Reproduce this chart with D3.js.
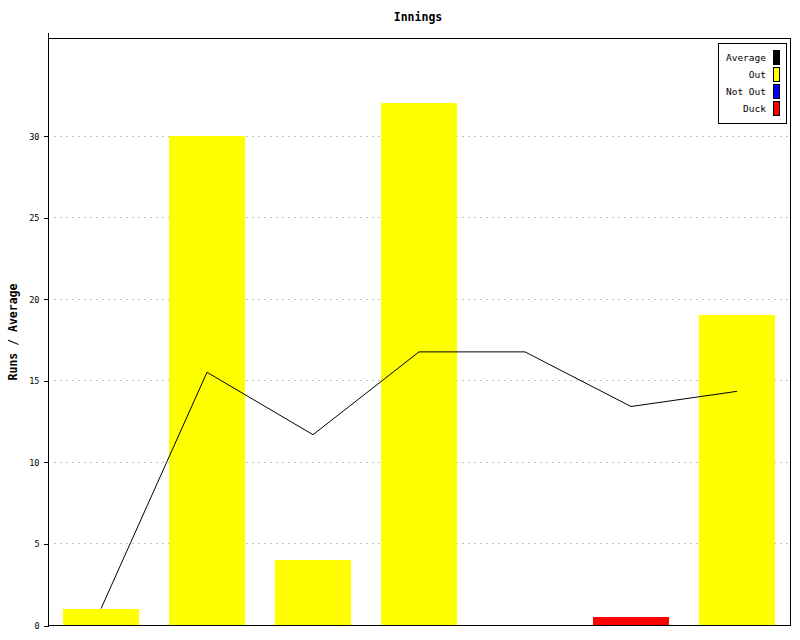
<!DOCTYPE html>
<html><head><meta charset="utf-8">
<script src="https://cdn.jsdelivr.net/npm/d3@7"></script>
<style>body{margin:0;background:#fff}svg{display:block}</style>
</head><body>
<script>
const innings = ["1","2","3","4","5","6","7"];
const outRuns = [1, 30, 4, 32, null, null, 19];
const notOutRuns = [null, null, null, null, 0, null, null];
const duckRuns = [null, null, null, null, null, 0.5, null];
const average = [1, 15.5, 11.67, 16.75, 16.75, 13.4, 14.33];
const yTicks = [0, 5, 10, 15, 20, 25, 30];
const legendItems = ["Average", "Out", "Not Out", "Duck"];
const legendColors = ["#000000", "#ffff00", "#0000ff", "#ff0000"];

const W = 800, H = 640;
const m = {left: 48, right: 790, top: 38, bottom: 625};
const svg = d3.select("body").append("svg").attr("width", W).attr("height", H);
const mono = "'DejaVu Sans Mono', 'Liberation Mono', monospace";

const x = d3.scaleBand().domain(innings).range([m.left, m.right]).paddingInner(0.283).paddingOuter(0.1415);
const y = d3.scaleLinear().domain([0, 36]).range([m.bottom, m.top]);

// gridlines
svg.append("g").selectAll("line").data(yTicks.filter(d => d > 0)).join("line")
  .attr("x1", m.left + 6).attr("x2", m.right - 2)
  .attr("y1", d => Math.round(y(d)) + 0.5).attr("y2", d => Math.round(y(d)) + 0.5)
  .attr("stroke", "#c0c0c0").attr("stroke-dasharray", "2,4").attr("shape-rendering", "crispEdges");

// bars
function bars(vals, color) {
  svg.append("g").selectAll("rect").data(innings.map((c, i) => ({c, v: vals[i]})).filter(d => d.v != null && d.v > 0))
    .join("rect")
    .attr("x", d => Math.round(x(d.c))).attr("width", Math.round(x.bandwidth()))
    .attr("y", d => Math.round(y(d.v))).attr("height", d => Math.round(y(0)) - Math.round(y(d.v)))
    .attr("fill", color).attr("shape-rendering", "crispEdges");
}
bars(outRuns, legendColors[1]);
bars(notOutRuns, legendColors[2]);
bars(duckRuns, legendColors[3]);

// average line
const line = d3.line().x((d, i) => x(innings[i]) + x.bandwidth() / 2).y(d => y(d));
svg.append("path").datum(average).attr("d", line).attr("fill", "none").attr("stroke", "#000").attr("stroke-width", 1);

// frame
svg.append("line").attr("x1", m.left).attr("x2", m.right + 1).attr("y1", m.top + 0.5).attr("y2", m.top + 0.5).attr("stroke", "#000").attr("shape-rendering", "crispEdges");
svg.append("line").attr("x1", m.right + 0.5).attr("x2", m.right + 0.5).attr("y1", m.top).attr("y2", m.bottom + 1).attr("stroke", "#000").attr("shape-rendering", "crispEdges");
svg.append("line").attr("x1", m.left).attr("x2", m.right + 1).attr("y1", m.bottom + 0.5).attr("y2", m.bottom + 0.5).attr("stroke", "#000").attr("shape-rendering", "crispEdges");
svg.append("line").attr("x1", m.left + 0.5).attr("x2", m.left + 0.5).attr("y1", 33).attr("y2", m.bottom + 1).attr("stroke", "#000").attr("shape-rendering", "crispEdges");

// y axis
const yAxis = d3.axisLeft(y).tickValues(yTicks).tickSize(5).tickPadding(4).tickFormat(d3.format("d"));
const ga = svg.append("g").attr("transform", `translate(${m.left + 0.5},0.5)`).call(yAxis);
ga.select(".domain").remove();
ga.selectAll("line").attr("shape-rendering", "crispEdges");
ga.selectAll("text").attr("font-family", mono).attr("font-size", 8.5).attr("fill", "#000");

// title
svg.append("text").attr("x", 418).attr("y", 21).attr("text-anchor", "middle")
  .attr("font-family", mono).attr("font-weight", "bold").attr("font-size", 11.5).text("Innings");

// y label
svg.append("text").attr("transform", "translate(17,332) rotate(-90)").attr("text-anchor", "middle")
  .attr("font-family", mono).attr("font-weight", "bold").attr("font-size", 11.5).text("Runs / Average");

// legend
const lg = svg.append("g");
lg.append("rect").attr("x", 718.5).attr("y", 43.5).attr("width", 68).attr("height", 80)
  .attr("fill", "#fff").attr("stroke", "#000").attr("shape-rendering", "crispEdges");
legendItems.forEach((name, i) => {
  const yy = 50 + i * 17;
  lg.append("rect").attr("x", 773.5).attr("y", yy + 0.5).attr("width", 6).attr("height", 14)
    .attr("fill", legendColors[i]).attr("stroke", "#000").attr("shape-rendering", "crispEdges");
  lg.append("text").attr("x", 766).attr("y", yy + 10.5).attr("text-anchor", "end")
    .attr("font-family", mono).attr("font-size", 9.5).text(name);
});
</script>
</body></html>
